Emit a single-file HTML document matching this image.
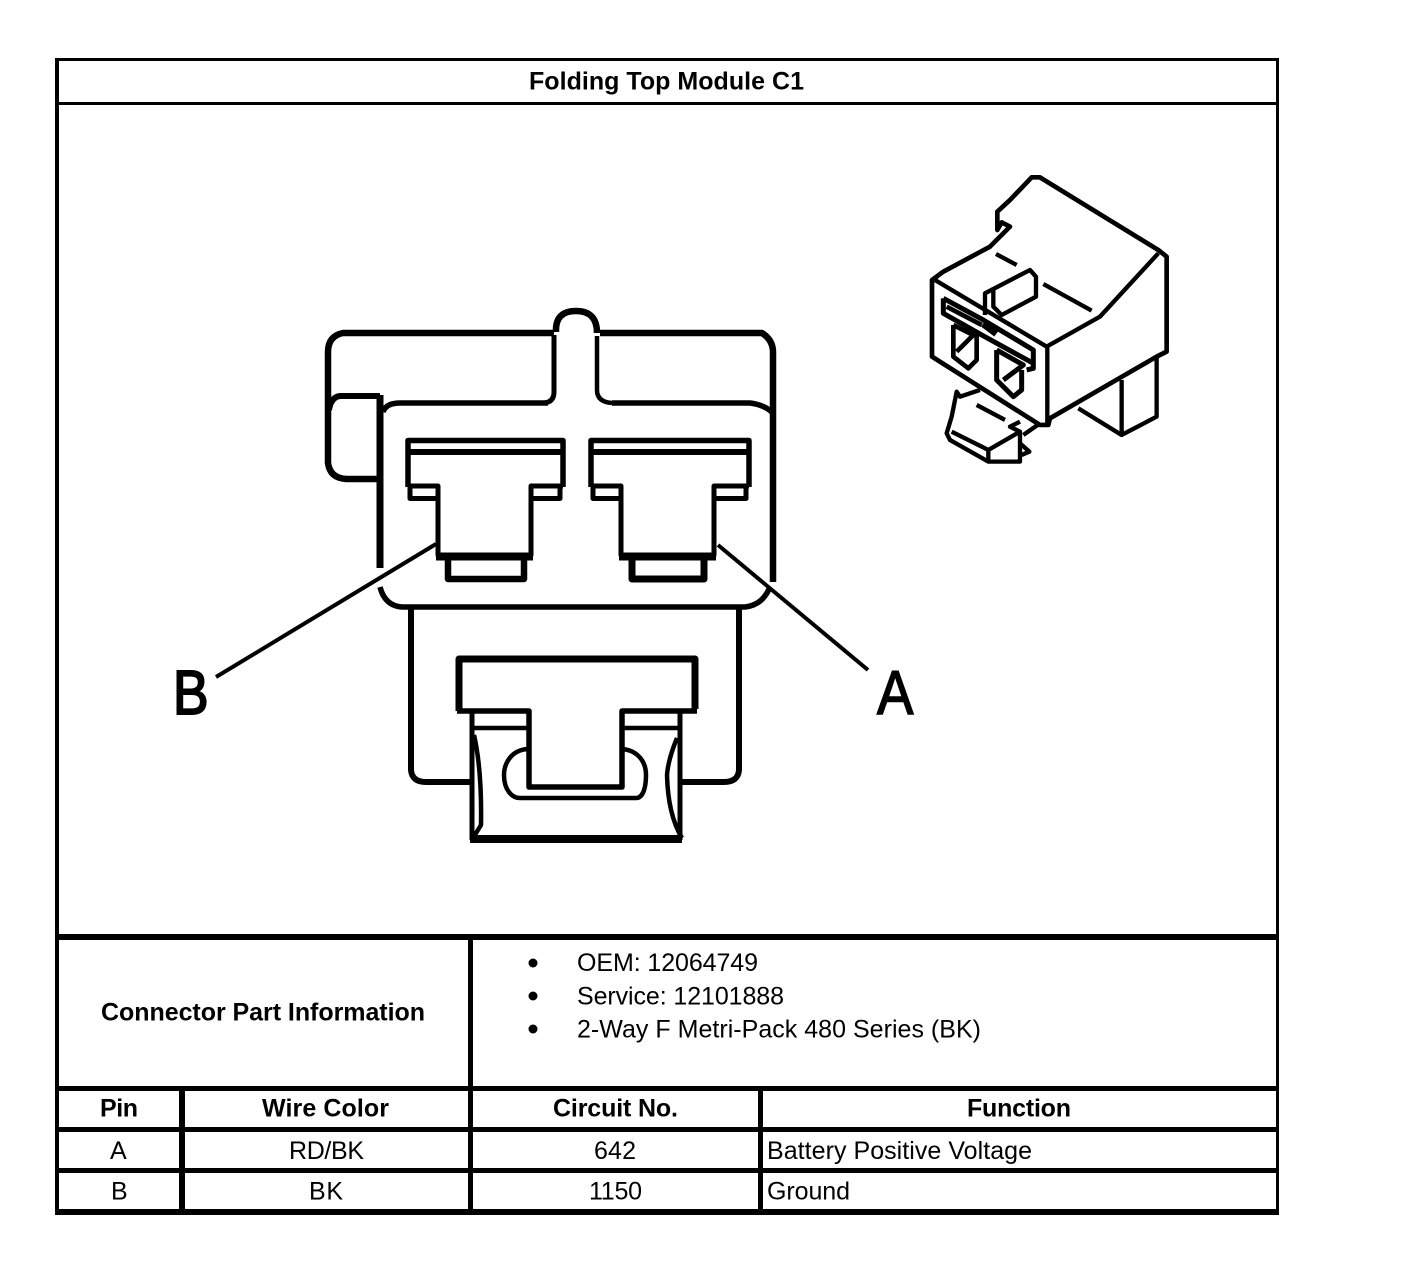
<!DOCTYPE html>
<html><head><meta charset="utf-8"><style>
html,body{margin:0;padding:0;background:#fff;width:1408px;height:1276px;overflow:hidden}
svg{display:block}
text{font-family:"Liberation Sans",Arial,sans-serif;fill:#000}
.b{font-weight:bold;font-size:25px}
.r{font-size:25px}
.t rect{fill:#000}
.d path{fill:none;stroke:#000;stroke-linejoin:round;stroke-linecap:butt}
</style></head><body>
<svg xmlns="http://www.w3.org/2000/svg" width="1408" height="1276" viewBox="0 0 1408 1276">
<rect width="1408" height="1276" fill="#fff"/>
<g class="t">
<rect x="55" y="58" width="1224" height="3"/>
<rect x="55" y="102" width="1224" height="3"/>
<rect x="55" y="934" width="1224" height="6"/>
<rect x="55" y="1086" width="1224" height="5"/>
<rect x="55" y="1127" width="1224" height="5"/>
<rect x="55" y="1168" width="1224" height="5"/>
<rect x="55" y="1209" width="1224" height="6"/>
<rect x="55" y="58" width="4" height="1157"/>
<rect x="1276" y="58" width="3" height="1157"/>
<rect x="468" y="934" width="5" height="281"/>
<rect x="179" y="1086" width="6" height="129"/>
<rect x="758" y="1086" width="5" height="129"/>
</g>

<text class="b" x="529" y="89.500" textLength="275">Folding Top Module C1</text>
<text class="b" x="101" y="1020.500" textLength="324">Connector Part Information</text>
<circle cx="533" cy="963" r="4.500"/><circle cx="533" cy="996" r="4.500"/><circle cx="533" cy="1029" r="4.500"/>
<text class="r" x="577" y="971" textLength="181">OEM: 12064749</text>
<text class="r" x="577" y="1004.500" textLength="207">Service: 12101888</text>
<text class="r" x="577" y="1037.500" textLength="404">2-Way F Metri-Pack 480 Series (BK)</text>
<text class="b" x="100" y="1116.500" textLength="38">Pin</text>
<text class="b" x="262" y="1116.500" textLength="127">Wire Color</text>
<text class="b" x="553" y="1116.500" textLength="125">Circuit No.</text>
<text class="b" x="967" y="1116.500" textLength="104">Function</text>
<text class="r" x="110" y="1159" textLength="17">A</text>
<text class="r" x="289" y="1159" textLength="75">RD/BK</text>
<text class="r" x="594" y="1159" textLength="42">642</text>
<text class="r" x="767" y="1159" textLength="265">Battery Positive Voltage</text>
<text class="r" x="111" y="1199.500" textLength="16">B</text>
<text class="r" x="309" y="1199.500" textLength="34">BK</text>
<text class="r" x="589" y="1199.500" textLength="53">1150</text>
<text class="r" x="767" y="1199.500" textLength="83">Ground</text>

<g class="d">
<!-- outer housing -->
<path stroke-width="6.500" d="M554 333H343Q328 336 328 352V463Q330 478 346 479H380"/>
<path stroke-width="6" d="M329 410Q331 397 340 396H380"/>
<path stroke-width="7" d="M380 395V568"/>
<path stroke-width="6.500" d="M600 333H762Q773 340 773 352V582"/>
<path stroke-width="6.500" d="M556 332Q555 311 576 311Q597 311 597 333"/>
<path stroke-width="5" d="M554 335V392Q554 402 544 403"/>
<path stroke-width="4.500" d="M597 336V390Q597 402 612 403"/>
<path stroke-width="5.500" d="M383 412Q386 403 400 403H548M612 403H750Q765 405 773 413"/>
<!-- left terminal -->
<path stroke-width="5.500" d="M408 487V440.500H563V487"/>
<path stroke-width="6" d="M408 452H563"/>
<path stroke-width="5" d="M408 486H438V555H531V486H563M410 486V498.500H438M531 498.500H560V486"/>
<path stroke-width="7" d="M436 557H533"/>
<path stroke-width="6.500" d="M448 559V579H524V559"/>
<!-- right terminal -->
<path stroke-width="5.500" d="M591 487V440.500H749V487"/>
<path stroke-width="6" d="M590 452H749"/>
<path stroke-width="5" d="M591 486H621V555H714V486H749M593 486V498.500H621M714 498.500H746V486"/>
<path stroke-width="7" d="M619 557H716"/>
<path stroke-width="7" d="M632 559V579H704V559"/>
<!-- bottom -->
<path stroke-width="5.500" d="M380 587Q385 606 402 607H745Q762 605 769 589"/>
<path stroke-width="6" d="M411 608V770Q412 782 426 782H471"/>
<path stroke-width="6" d="M739 608V770Q738 782 724 782H682"/>
<path stroke-width="7" d="M459 711V659H695V709"/>
<path stroke-width="5.500" d="M457 711H529V787H622V711H697"/>
<path stroke-width="5" d="M472 711V840M680 711V840"/>
<path stroke-width="4.500" d="M471 728H529M622 728H680"/>
<path stroke-width="8" d="M470 839H682"/>
<path stroke-width="4.500" d="M474 735Q482 770 481 825L473 838"/>
<path stroke-width="4.500" d="M677 738Q668 760 667 775Q668 815 682 838"/>
<path stroke-width="4.500" d="M528 749C510 750 504 765 504 775C504 790 512 798 520 798H636C644 798 646 785 646 775C646 760 636 750 622 749"/>
<!-- leaders -->
<path stroke-width="4" d="M436 544L216 677"/>
<path stroke-width="4" d="M718 545L868 670"/>
</g>
<text transform="translate(173 714) scale(.86 1)" font-size="62" stroke="#000" stroke-width="2">B</text>
<text transform="translate(877 714) scale(.88 1)" font-size="62" stroke="#000" stroke-width="1.500">A</text>

<!-- 3D view -->
<g class="d" transform="translate(910 160) scale(.3333)">
<path stroke-width="14" d="M66 360L100 335L240 260L300 200L275 187L262 210V155L300 120L365 52H390L745 270L770 290V575L740 590L420 775L415 795H390L66 590Z"/>
<path stroke-width="13" d="M75 360L410 560L570 470L745 280"/>
<path stroke-width="13" d="M412 560V790"/>
<path stroke-width="13" d="M740 590V770L635 825L505 745"/>
<path stroke-width="13" d="M635 660V825"/>
<path stroke-width="13" d="M258 282L320 315M400 372L545 452"/>
<path stroke-width="13" d="M225 465V400L360 330L378 350V410L275 465L250 440V390"/>
<path stroke-width="15" d="M100 415V460L215 525L370 610V625L350 630M100 415L220 480L370 570V610"/>
<path stroke-width="14" d="M110 440L215 495"/>
<path stroke-width="24" d="M220 490L260 520"/>
<path stroke-width="14" d="M130 495V590L175 625L200 600V520M130 495L190 525L140 575"/>
<path stroke-width="15" d="M260 570V660L310 710L335 690V630M260 570L340 615L280 660"/>
<path stroke-width="13" d="M210 690L150 710L140 695L125 770L110 820L120 840L235 905H330V815L235 870L125 815"/>
<path stroke-width="13" d="M200 735L285 780M235 870V905M330 815L300 800L330 785M330 850L358 875L335 885M340 825L390 790"/>
</g>
</svg>
</body></html>
